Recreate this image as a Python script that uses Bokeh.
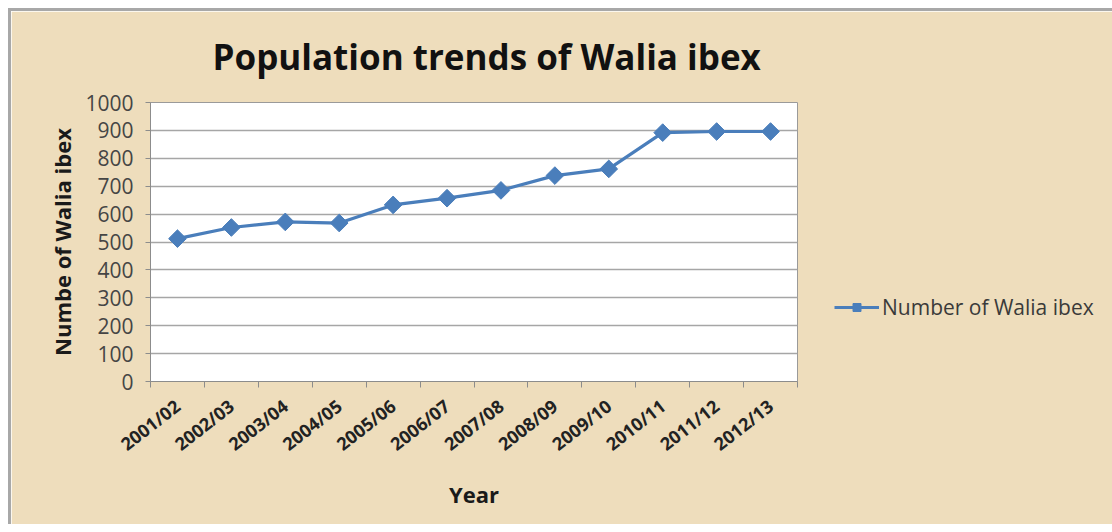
import math
from bokeh.plotting import figure
from bokeh.models import Range1d, FixedTicker, Legend, LegendItem
from bokeh.embed import file_html
from bokeh.resources import INLINE

years = ["2001/02", "2002/03", "2003/04", "2004/05", "2005/06", "2006/07",
         "2007/08", "2008/09", "2009/10", "2010/11", "2011/12", "2012/13"]
population = [512, 552, 572, 568, 633, 657, 685, 738, 762, 892, 896, 896]
y_ticks = [0, 100, 200, 300, 400, 500, 600, 700, 800, 900, 1000]

BG = "#EEDDBC"
FONT = "Open Sans"
xs = [i + 0.5 for i in range(len(years))]

p = figure(width=1093, height=513, output_backend="svg", toolbar_location=None,
           x_range=Range1d(0, len(years)), y_range=Range1d(0, 1000),
           min_border_left=139, min_border_right=307, min_border_top=91,
           min_border_bottom=143, frame_width=647, frame_height=279)
p.styles = {"border-top": "3px solid #a8a8a8", "border-left": "3px solid #a8a8a8",
            "margin-left": "8px", "margin-top": "8px"}

p.background_fill_color = "white"
p.border_fill_color = BG
p.outline_line_color = "#9a9a9a"
p.outline_line_width = 1

p.title.text = "Population trends of Walia ibex"
p.title.text_font = FONT
p.title.text_font_size = "35px"
p.title.text_font_style = "bold"
p.title.text_color = "#111111"
p.title.align = "left"
p.title.vertical_align = "top"
p.title.offset = 62
p.title.standoff = 42

# y axis
p.yaxis.ticker = FixedTicker(ticks=y_ticks)
p.yaxis.axis_line_color = "#8c8c8c"
p.yaxis.major_tick_line_color = "#8c8c8c"
p.yaxis.major_tick_out = 5
p.yaxis.major_tick_in = 0
p.yaxis.minor_tick_line_color = None
p.yaxis.major_label_text_font = FONT
p.yaxis.major_label_text_font_size = "21px"
p.yaxis.major_label_text_color = "#454545"
p.yaxis.major_label_standoff = 12
p.yaxis.axis_label = "Numbe of Walia ibex"
p.yaxis.axis_label_text_font = FONT
p.yaxis.axis_label_text_font_size = "22px"
p.yaxis.axis_label_text_font_style = "bold"
p.yaxis.axis_label_text_color = "#1a1a1a"
p.yaxis.axis_label_standoff = 5

# x axis
p.xaxis.ticker = FixedTicker(ticks=xs, minor_ticks=list(range(len(years) + 1)))
p.xaxis.major_label_overrides = {x: lab for x, lab in zip(xs, years)}
p.xaxis.major_label_orientation = math.radians(38)
p.xaxis.axis_line_color = "#8c8c8c"
p.xaxis.major_tick_line_color = None
p.xaxis.minor_tick_line_color = "#8c8c8c"
p.xaxis.minor_tick_out = 6
p.xaxis.minor_tick_in = 0
p.xaxis.major_label_text_font = FONT
p.xaxis.major_label_text_font_size = "18px"
p.xaxis.major_label_text_font_style = "bold"
p.xaxis.major_label_text_color = "#222222"
p.xaxis.major_label_standoff = 16
p.xaxis.axis_label = "Year"
p.xaxis.axis_label_text_font = FONT
p.xaxis.axis_label_text_font_size = "22px"
p.xaxis.axis_label_text_font_style = "bold"
p.xaxis.axis_label_text_color = "#1a1a1a"
p.xaxis.axis_label_standoff = 11

p.xgrid.grid_line_color = None
p.ygrid.ticker = FixedTicker(ticks=y_ticks)
p.ygrid.grid_line_color = "#a6a6a6"
p.ygrid.grid_line_width = 1.5

line = p.line(xs, population, line_color="#4A7EBB", line_width=3.2)
pts = p.scatter(xs, population, marker="square", angle=math.pi / 4, size=12.5,
                fill_color="#4A7EBB", line_color="#4A7EBB")

legend = Legend(items=[LegendItem(label="Number of Walia ibex", renderers=[line, pts])],
                location=(37, 60), orientation="vertical")
legend.background_fill_alpha = 0
legend.border_line_color = None
legend.label_text_font = FONT
legend.label_text_font_size = "21px"
legend.label_text_color = "#3a3a3a"
legend.glyph_width = 45
legend.label_standoff = 3
legend.padding = 0
legend.margin = 0
p.add_layout(legend, "right")

open("out.html", "w").write(file_html(p, INLINE))
